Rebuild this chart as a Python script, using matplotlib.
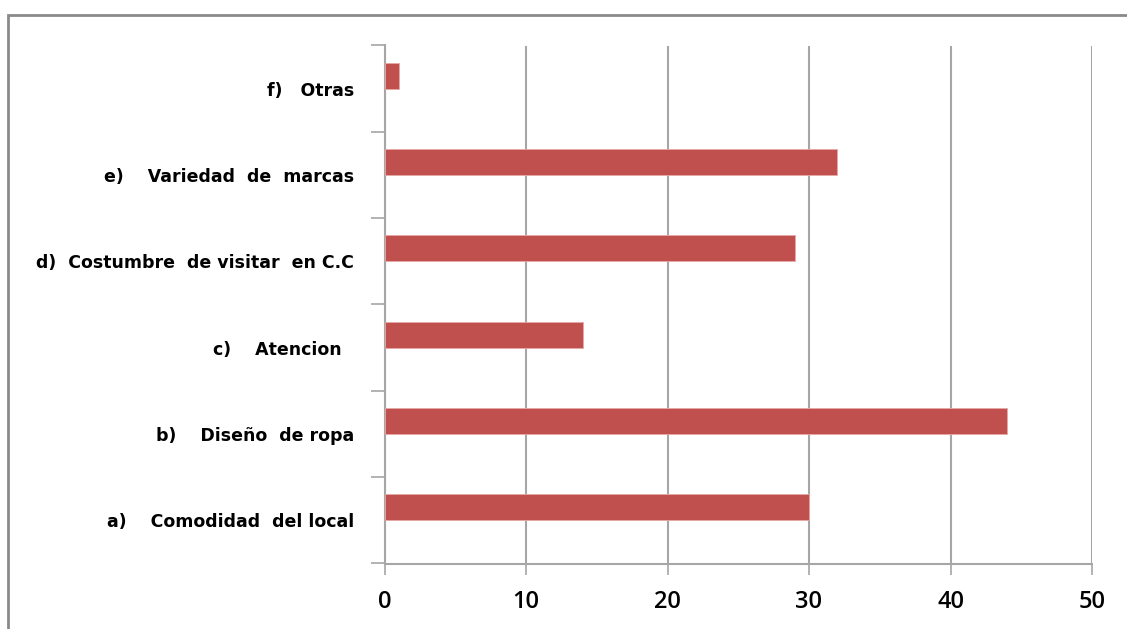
import matplotlib
matplotlib.use("Agg")
import matplotlib.pyplot as plt
from matplotlib.patches import Rectangle
import numpy as np

# Data
categories = [
    "a)    Comodidad  del local",
    "b)    Diseño  de ropa",
    "c)    Atencion  ",
    "d)  Costumbre  de visitar  en C.C",
    "e)    Variedad  de  marcas",
    "f)   Otras",
]
values = [30, 44, 14, 29, 32, 1]
x_ticks = [0, 10, 20, 30, 40, 50]

bar_color = "#C0504D"
grid_color = "#A6A6A6"

W, H = 1127, 629
fig = plt.figure(figsize=(W / 100, H / 100), dpi=100)

# outer frame of the chart area
fig.patches.append(Rectangle((8 / W, -0.1), 1.2, 1 - 15 / H + 0.1,
                             transform=fig.transFigure, fill=False,
                             edgecolor="#8A8A8A", linewidth=2))

ax = fig.add_axes([384.5 / W, 1 - 563.5 / H, (1092 - 384.5) / W, (563.5 - 45.5) / H])

pos = np.arange(len(categories))
ax.barh(pos, values, height=0.30, align="edge", color=bar_color,
        edgecolor="#E8A9A7", linewidth=0.6, zorder=3)

ax.set_xlim(0, 50)
ax.set_ylim(-0.5, len(categories) - 0.5)

ax.set_xticks(x_ticks)
ax.set_xticklabels([str(t) for t in x_ticks], fontsize=17, family="Open Sans",
                   fontweight="semibold")
ax.tick_params(axis="x", length=8, width=1.2, color=grid_color, pad=11)

ax.set_yticks(pos)
ax.set_yticklabels(categories, fontsize=12.5, fontweight="bold", family="DejaVu Sans")
ax.tick_params(axis="y", which="major", length=0, pad=22)
ax.set_yticks(np.arange(-0.5, len(categories), 1.0), minor=True)
ax.tick_params(axis="y", which="minor", length=10, width=1.2, color=grid_color)

ax.grid(axis="x", color=grid_color, linewidth=1.5)
ax.set_axisbelow(True)

for side in ("top", "right"):
    ax.spines[side].set_visible(False)
for side in ("left", "bottom"):
    ax.spines[side].set_color(grid_color)
    ax.spines[side].set_linewidth(1.5)

fig.savefig("out.png", dpi=100)
